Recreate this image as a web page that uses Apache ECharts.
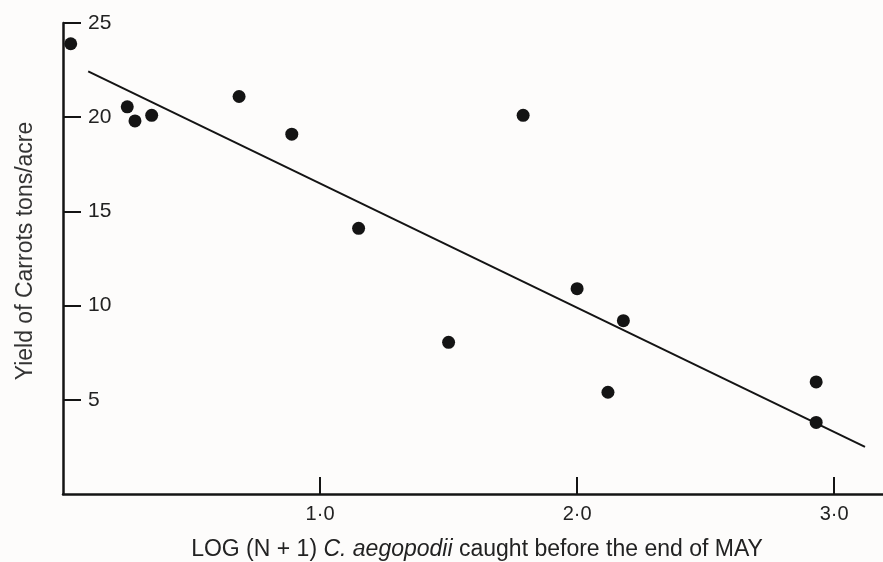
<!DOCTYPE html>
<html>
<head>
<meta charset="utf-8">
<script src="https://cdn.jsdelivr.net/npm/echarts@6/dist/echarts.min.js"></script>
<style>
html,body{margin:0;padding:0;background:#fdfcfb;}
#chart{width:883px;height:562px;}
</style>
</head>
<body>
<div id="chart"></div>
<script>
// Observed points: log(N+1) vs yield (tons/acre)
const logN = [0.03, 0.25, 0.28, 0.345, 0.685, 0.89, 1.15, 1.50, 1.79, 2.00, 2.12, 2.18, 2.93, 2.93];
const yieldTons = [23.9, 20.55, 19.8, 20.1, 21.1, 19.1, 14.1, 8.05, 20.1, 10.9, 5.4, 9.2, 5.95, 3.8];
// Fitted regression line end points
const fitX = [0.098, 3.12];
const fitY = [22.43, 2.5];
const xTicks = [1, 2, 3];
const yTicks = [5, 10, 15, 20, 25];

const ink = '#141414';
const font = 'Liberation Sans, Arial, Helvetica, sans-serif';

const chart = echarts.init(document.getElementById('chart'), null, {renderer: 'canvas'});
chart.setOption({
  backgroundColor: '#fdfcfb',
  animation: false,
  grid: {left: 63, right: 0, top: 23, bottom: 68, containLabel: false, outerBoundsMode: 'none'},
  xAxis: {
    type: 'value', min: 0, max: 3.19, interval: 1,
    axisLine: {show: true, onZero: false, lineStyle: {color: ink, width: 2.5}},
    axisTick: {show: true, inside: true, length: 17, lineStyle: {color: ink, width: 2}, customValues: xTicks},
    axisLabel: {
      customValues: xTicks, margin: 10, color: '#222', fontFamily: font, fontSize: 20,
      formatter: v => v.toFixed(1).replace('.', '\u00b7')
    },
    splitLine: {show: false},
    name: '{n|LOG (N + 1) }{i|C. aegopodii}{n| caught before the end of MAY}',
    nameLocation: 'middle', nameGap: 44,
    nameTextStyle: {
      padding: [0, 0, 0, 8],
      rich: {
        n: {fontFamily: font, fontSize: 23, color: '#222'},
        i: {fontFamily: font, fontSize: 23, fontStyle: 'italic', color: '#222'}
      }
    }
  },
  yAxis: {
    type: 'value', min: 0, max: 25, interval: 5,
    axisLine: {show: true, onZero: false, lineStyle: {color: ink, width: 2.5}},
    axisTick: {show: true, inside: true, length: 18, lineStyle: {color: ink, width: 2}, customValues: yTicks},
    axisLabel: {
      inside: true, margin: 25, customValues: yTicks,
      color: '#222', fontFamily: font, fontSize: 21
    },
    splitLine: {show: false},
    name: 'Yield of Carrots tons/acre',
    nameLocation: 'middle', nameRotate: 90, nameGap: 26,
    nameTextStyle: {fontFamily: font, fontSize: 23, color: '#333', padding: [0, 0, 0, 15]}
  },
  series: [
    {
      type: 'line',
      data: fitX.map((x, i) => [x, fitY[i]]),
      showSymbol: false, symbol: 'none',
      lineStyle: {color: ink, width: 2},
      z: 2
    },
    {
      type: 'scatter',
      data: logN.map((x, i) => [x, yieldTons[i]]),
      symbol: 'circle', symbolSize: 13,
      itemStyle: {color: ink, opacity: 1},
      z: 3
    }
  ]
});
</script>
</body>
</html>
